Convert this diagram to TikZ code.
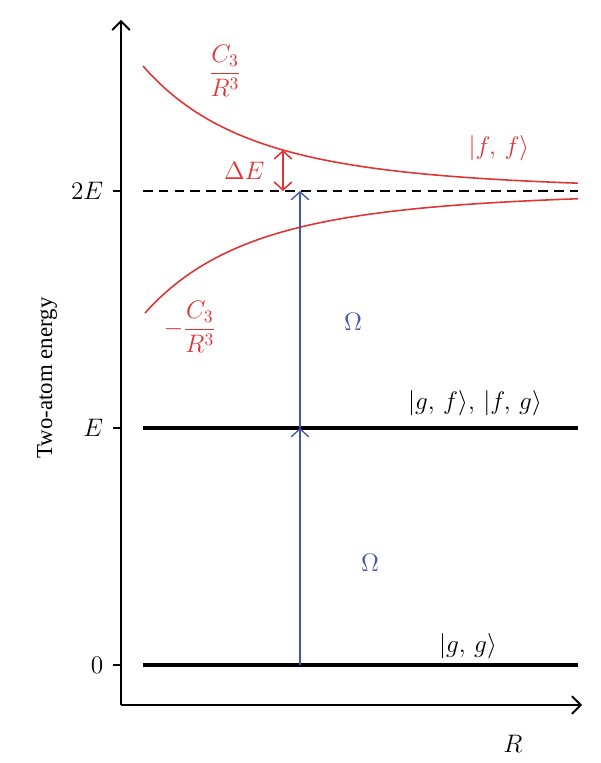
\documentclass[tikz,border=0pt]{standalone}
\usepackage{fontspec}
\setmainfont{Liberation Serif}
\usetikzlibrary{arrows.meta, positioning}
\definecolor{pairred}{RGB}{224,52,52}
\definecolor{pumpblue}{RGB}{68,88,170}
\tikzset{axis/.style={line width=1.1pt,-{Straight Barb[length=5pt,width=10pt]}},
  tick/.style={line width=1pt},
  level/.style={line width=2.3pt},
  curve/.style={pairred,line width=0.9pt},
  pump/.style={pumpblue,line width=0.75pt,-{Straight Barb[length=4.5pt,width=10pt]}},
  gap/.style={pairred,line width=0.9pt,{Straight Barb[length=4.5pt,width=10pt]}-{Straight Barb[length=4.5pt,width=10pt]}},
  lbl/.style={font=\fontsize{13}{15}\selectfont},
  mlbl/.style={font=\fontsize{14.5}{17}\selectfont}}

\begin{document}
\begin{tikzpicture}[x=0.02cm,y=0.02cm]
\useasboundingbox (0,0) rectangle (600,763);
% axes
\coordinate (o) at (121,58);
\draw[axis] (o) -- (121,743) coordinate (ytop);
\draw[axis] (o) -- (582,58) coordinate (xend);
\node[mlbl] (r) at (513,19) {$R$};
\node[lbl, rotate=90] (ylab) at (47,385) {Two-atom energy};
% ticks and level labels
\foreach \name/\yy/\txt in {t0/98/0, t1/335/E, t2/572/2E} {
  \draw[tick] (113,\yy) coordinate (\name) -- (121,\yy);
  \node[mlbl, left=2pt of \name] {$\txt$};
}
% levels
\draw[level] (143,98) -- (578,98);
\draw[level] (143,335) -- (578,335);
\draw[line width=1.1pt, dash pattern=on 5.5pt off 3.5pt] (143,572) -- (578,572);
\node[mlbl] (gg) at (468,117) {$|g,\,g\rangle$};
\node[mlbl] (gf) at (475,360) {$|g,\,f\rangle,\,|f,\,g\rangle$};
% pair curves
\draw[curve] plot[domain=143:578, samples=80] (\x, {572 + 125*(435/(\x+292))^4});
\draw[curve] plot[domain=145:578, samples=80] (\x, {572 - 122*(437/(\x+292))^4});
\node[mlbl, pairred] (ff) at (499,615) {$|f,\,f\rangle$};
\node[mlbl, pairred] (plus) at (225,692) {$\displaystyle\frac{C_3}{R^3}$};
\node[mlbl, pairred] (minus) at (190,436) {$-\displaystyle\frac{C_3}{R^3}$};
% shift
\coordinate (top) at (283,613);
\coordinate (mid) at (283,572);
\draw[gap] (top) -- (mid);
\node[mlbl, pairred, left=7pt of top, yshift=-12pt] (de) {$\Delta E$};
% excitation
\coordinate (p0) at (300,98);
\coordinate (p1) at (300,335);
\coordinate (p2) at (300,572);
\draw[pump] (p0) -- (p1);
\draw[pump] (p1) -- (p2);
\node[mlbl, pumpblue] (w1) at (370,200) {$\Omega$};
\node[mlbl, pumpblue] (w2) at (353,441) {$\Omega$};
\end{tikzpicture}
\end{document}
